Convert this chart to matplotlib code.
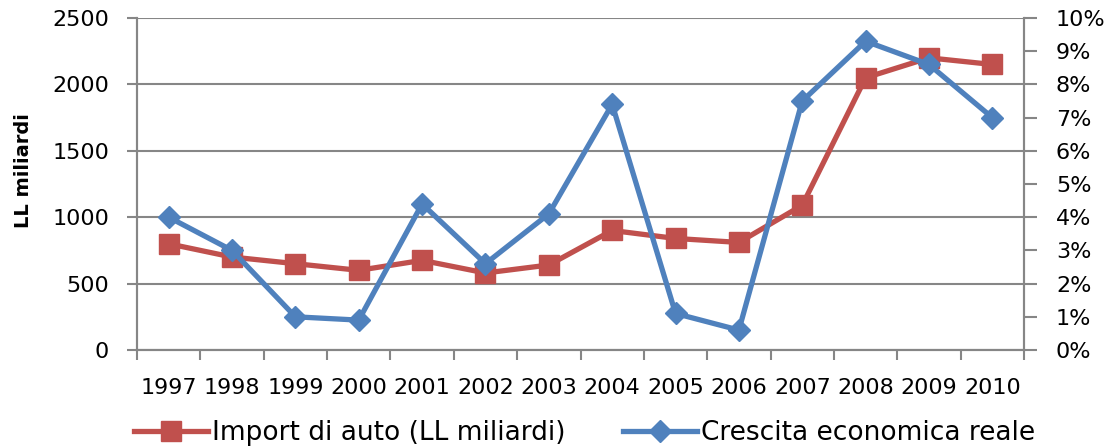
import numpy as np
import matplotlib
matplotlib.use("Agg")
import matplotlib.pyplot as plt
from matplotlib.ticker import FixedLocator, PercentFormatter

anni = ["1997", "1998", "1999", "2000", "2001", "2002", "2003",
        "2004", "2005", "2006", "2007", "2008", "2009", "2010"]
import_auto = [800, 700, 650, 600, 675, 580, 640, 900, 840, 810, 1090, 2050, 2200, 2150]
crescita = [4.0, 3.0, 1.0, 0.9, 4.4, 2.6, 4.1, 7.4, 1.1, 0.6, 7.5, 9.3, 8.6, 7.0]

rosso = "#C0504D"
blu = "#4F81BD"
grigio = "#868686"

plt.rcParams['font.family'] = ['DejaVu Sans']

fig = plt.figure(figsize=(11.05, 4.48), dpi=100)
ax = fig.add_axes([137/1105, 1 - 350/448, (1024-137)/1105, (350-18)/448])
x = np.arange(len(anni))

l1, = ax.plot(x, import_auto, color=rosso, lw=3.8, marker="s", ms=14,
              label="Import di auto (LL miliardi)")
ax.set_ylim(0, 2500)
ax.set_yticks(np.arange(0, 2501, 500))
ax.set_xlim(-0.5, len(anni) - 0.5)
ax.grid(axis="y", color=grigio, lw=1.5)
ax.set_axisbelow(True)

# tacche tra le categorie, etichette al centro
ax.xaxis.set_major_locator(FixedLocator(np.arange(-0.5, len(anni), 1)))
ax.xaxis.set_major_formatter(plt.NullFormatter())
ax.xaxis.set_minor_locator(FixedLocator(x))
ax.set_xticklabels(anni, minor=True)
ax.tick_params(axis="x", which="major", length=7, width=1.5, color=grigio)
ax.tick_params(axis="x", which="minor", length=0, pad=20, labelsize=16)
ax.tick_params(axis="y", length=7, width=1.5, color=grigio, pad=13, labelsize=16)
ax.set_ylabel("LL miliardi", fontsize=14, fontweight="bold")
ax.yaxis.set_label_coords(-0.117, 0.54)

ax2 = ax.twinx()
l2, = ax2.plot(x, crescita, color=blu, lw=3.8, marker="D", ms=11,
               label="Crescita economica reale")
ax2.set_ylim(0, 10)
ax2.set_yticks(np.arange(0, 11, 1))
ax2.yaxis.set_major_formatter(PercentFormatter(decimals=0))
ax2.tick_params(axis="y", length=9, width=1.5, color=grigio, pad=14, labelsize=16)

for a in (ax, ax2):
    a.spines["top"].set_visible(False)
    for s in ("left", "right", "bottom"):
        a.spines[s].set_color(grigio)
        a.spines[s].set_linewidth(1.5)

fig.legend(handles=[l1, l2], loc="center", bbox_to_anchor=(0.529, 1 - 433/448),
           ncol=2, frameon=False, fontsize=19, handlelength=2.8,
           handletextpad=0.15, columnspacing=2.2, borderaxespad=0)

fig.savefig("out.png", dpi=100)
